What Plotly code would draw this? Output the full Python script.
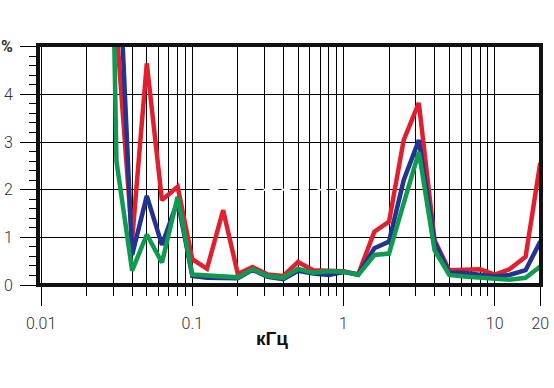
import plotly.graph_objects as go

# Frequencies, kHz (1/3-octave points)
freq_khz = [0.025, 0.0315, 0.04, 0.05, 0.063, 0.08, 0.1, 0.125, 0.16, 0.2, 0.25, 0.315,
            0.4, 0.5, 0.63, 0.8, 1.0, 1.25, 1.6, 2.0, 2.5, 3.15, 4.0, 5.0, 6.3, 8.0,
            10.0, 12.5, 16.0, 20.0]

red_pct = [12.0, 5.4, 0.95, 4.65, 1.78, 2.06, 0.54, 0.34, 1.57, 0.23, 0.38, 0.22,
           0.19, 0.48, 0.31, 0.29, 0.29, 0.22, 1.12, 1.33, 3.04, 3.82, 0.94, 0.31, 0.31, 0.33,
           0.22, 0.33, 0.59, 2.56]

blue_pct = [15.0, 8.0, 0.63, 1.87, 0.84, 1.76, 0.19, 0.15, 0.14, 0.14, 0.32, 0.17,
            0.12, 0.3, 0.24, 0.21, 0.27, 0.22, 0.77, 0.91, 2.2, 3.04, 0.9, 0.26, 0.25, 0.22,
            0.18, 0.21, 0.31, 0.91]

green_pct = [20.0, 2.6, 0.3, 1.06, 0.47, 1.85, 0.22, 0.2, 0.17, 0.16, 0.33, 0.19,
             0.15, 0.34, 0.26, 0.29, 0.28, 0.21, 0.63, 0.66, 1.71, 2.79, 0.73, 0.21, 0.18, 0.15,
             0.12, 0.11, 0.15, 0.39]

x_major_ticks = [0.01, 0.1, 1, 10, 20]
x_major_labels = ["0.01", "0.1", "1", "10", "20"]
x_minor_ticks = [m * d for d in (0.01, 0.1, 1) for m in range(2, 10)] + [10]
y_ticks = [0, 1, 2, 3, 4, 5]
y_labels = ["0", "1", "2", "3", "4", "<b>%</b>"]

RED = "#e0202e"
BLUE = "#23338f"
GREEN = "#0f9a52"

fig = go.Figure()
for vals, col in ((red_pct, RED), (blue_pct, BLUE), (green_pct, GREEN)):
    fig.add_trace(go.Scatter(x=freq_khz, y=vals, mode="lines",
                             line=dict(color=col, width=4.5), showlegend=False,
                             hoverinfo="skip"))

label_font = dict(family="Roboto, Liberation Sans, Arial", size=16, color="#333", weight=300)

fig.update_layout(
    width=554, height=388,
    margin=dict(l=38, r=13, t=45, b=103, autoexpand=False),
    paper_bgcolor="white", plot_bgcolor="white",
    hovermode=False,
    xaxis=dict(type="log", range=[-2.0205, 1.306], automargin=False,
               tickmode="array", tickvals=x_major_ticks, ticktext=x_major_labels,
               ticks="outside", ticklen=20, tickwidth=1, tickcolor="black",
               ticklabelstandoff=4,
               showgrid=True, gridcolor="black", gridwidth=1,
               showline=False, zeroline=False, tickfont=label_font,
               minor=dict(tickmode="array", tickvals=x_minor_ticks, ticks="outside",
                          ticklen=10, tickwidth=1, tickcolor="black",
                          showgrid=True, gridcolor="black", gridwidth=1)),
    yaxis=dict(range=[0, 5.035], automargin=False,
               tickmode="array", tickvals=y_ticks, ticktext=y_labels,
               ticks="outside", ticklen=17, tickwidth=1, tickcolor="black",
               ticklabelstandoff=4,
               showgrid=True, gridcolor="black", gridwidth=1,
               showline=False, zeroline=False, tickfont=label_font,
               minor=dict(dtick=0.2, ticks="outside", ticklen=8, tickwidth=1,
                          tickcolor="black", showgrid=False)),
    shapes=[
        # faint white dashes over part of the 2% grid line, as in the scanned original
        dict(type="line", xref="x", yref="y", x0=0.13, x1=0.97, y0=2, y1=2,
             line=dict(color="white", width=2, dash="dash"), layer="above"),
        dict(type="rect", xref="paper", yref="paper", x0=0, x1=1, y0=0, y1=1,
             line=dict(color="#111", width=4), layer="above"),
    ],
    annotations=[dict(text="кГц", xref="paper", yref="paper", x=0.465, y=-0.17,
                      xanchor="center", yanchor="top", showarrow=False,
                      font=dict(family="Liberation Sans, Arial", size=19, color="#111",
                                weight="bold"))],
)

# remove the default 8px page margin so the figure fills the window exactly
fig.write_html("out.html", config={"displayModeBar": False, "staticPlot": True},
               post_script="document.body.style.margin='0px';")
